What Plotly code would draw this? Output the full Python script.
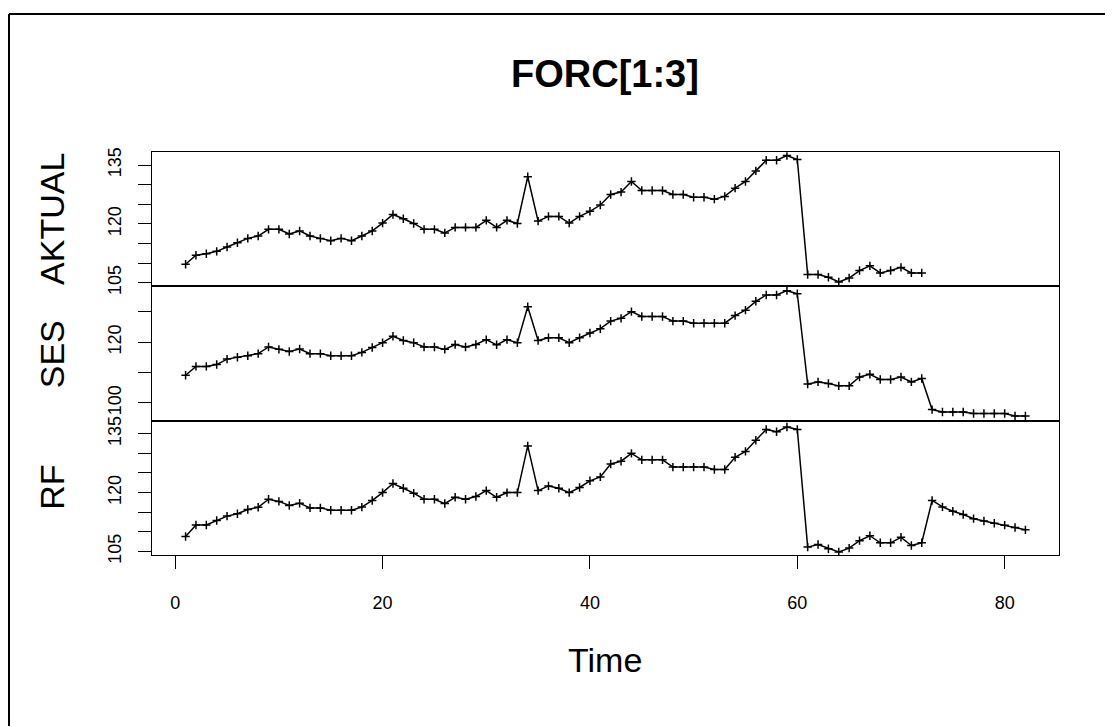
import plotly.graph_objects as go

# time index and the three series
time = list(range(1, 83))

aktual = [109.7, 112.0, 112.4, 113.0, 114.1, 115.2, 116.3, 116.9, 118.6, 118.6,
          117.4, 118.2, 116.9, 116.3, 115.7, 116.3, 115.7, 116.9, 118.2, 120.2,
          122.4, 121.3, 120.1, 118.6, 118.6, 117.7, 119.1, 119.1, 119.1, 120.9,
          119.1, 120.9, 120.1, 132.0, 120.7, 121.9, 121.9, 120.2, 121.9, 123.2,
          124.8, 127.5, 128.1, 130.8, 128.5, 128.5, 128.5, 127.5, 127.5, 126.8,
          126.8, 126.3, 127.0, 129.1, 130.8, 133.5, 136.2, 136.2, 137.4, 136.4,
          107.1, 107.1, 106.4, 105.2, 106.2, 108.1, 109.3, 107.5, 108.1, 108.9,
          107.5, 107.5]

ses = [109.1, 112.0, 112.0, 112.6, 114.4, 115.0, 115.5, 116.2, 118.4, 117.6,
       116.9, 117.7, 116.2, 116.2, 115.5, 115.5, 115.5, 116.6, 118.2, 119.8,
       121.9, 120.5, 119.8, 118.4, 118.4, 117.6, 119.2, 118.4, 119.2, 120.8,
       119.1, 120.8, 119.8, 131.6, 120.5, 121.4, 121.4, 119.8, 121.4, 123.0,
       124.4, 126.9, 127.8, 130.0, 128.4, 128.4, 128.4, 126.9, 126.9, 126.2,
       126.2, 126.2, 126.2, 128.7, 130.5, 133.4, 135.5, 135.5, 136.9, 135.9,
       106.2, 106.9, 106.4, 105.6, 105.6, 108.5, 109.4, 107.7, 107.7, 108.5,
       106.9, 108.0, 97.8, 97.0, 97.0, 97.0, 96.5, 96.5, 96.5, 96.5,
       95.7, 95.7]

rf = [108.8, 111.75, 111.75, 112.9, 114.0, 114.6, 115.7, 116.25, 118.3, 117.75,
      116.7, 117.3, 116.1, 116.1, 115.5, 115.5, 115.5, 116.3, 118.0, 120.0,
      122.3, 121.1, 119.85, 118.3, 118.3, 117.2, 118.8, 118.3, 119.0, 120.5,
      118.8, 120.0, 120.0, 131.9, 120.5, 121.7, 121.1, 120.0, 121.3, 123.0,
      124.0, 127.3, 128.0, 130.0, 128.35, 128.35, 128.35, 126.5, 126.5, 126.5,
      126.5, 125.9, 125.9, 129.0, 130.5, 133.35, 136.1, 135.5, 136.7, 136.1,
      106.1, 106.75, 105.7, 104.85, 105.85, 107.75, 109.0, 107.2, 107.2, 108.6,
      106.5, 107.2, 118.0, 116.35, 115.25, 114.4, 113.35, 112.75, 112.2, 111.7,
      111.1, 110.5]

aktual_ticks = [105, 110, 115, 120, 125, 130, 135]
aktual_labels = ["105", "", "", "120", "", "", "135"]
ses_ticks = [100, 110, 120, 130]
ses_labels = ["100", "", "120", ""]
rf_ticks = [105, 110, 115, 120, 125, 130, 135]
rf_labels = ["105", "", "", "120", "", "", "135"]
time_ticks = [0, 20, 40, 60, 80]

W, H = 1113, 727
OFF = 8  # page body margin
FONT = "Liberation Sans, Arial, sans-serif"


def px(x):
    return (x - OFF) / W


def py(y):
    return 1 - (y - OFF) / H


fig = go.Figure()
for i, ser in enumerate([aktual, ses, rf]):
    fig.add_trace(go.Scatter(
        x=time[:len(ser)], y=ser, mode="lines+markers",
        line=dict(color="black", width=1.5),
        marker=dict(symbol="cross-thin", size=6, line=dict(color="black", width=1.5)),
        xaxis="x" if i == 0 else f"x{i+1}", yaxis="y" if i == 0 else f"y{i+1}",
        showlegend=False))

xdom = [px(152), px(1059)]
xr = [-2.24, 85.24]
common_y = dict(showline=True, mirror=True, linecolor="black", linewidth=1,
                ticks="outside", ticklen=13, tickcolor="black", tickwidth=1,
                tickangle=-90, showgrid=False, zeroline=False,
                tickfont=dict(family=FONT, size=18, color="black"),
                ticklabelstandoff=10)
common_x = dict(domain=xdom, range=xr, showline=True, mirror=True,
                linecolor="black", linewidth=1, showgrid=False, zeroline=False)

fig.update_layout(
    width=W, height=H, margin=dict(l=0, r=0, t=0, b=0),
    plot_bgcolor="white", paper_bgcolor="white",
    xaxis=dict(**common_x, anchor="y", showticklabels=False, ticks=""),
    xaxis2=dict(**common_x, anchor="y2", showticklabels=False, ticks="", matches="x"),
    xaxis3=dict(**common_x, anchor="y3", ticks="outside", ticklen=13, tickcolor="black",
                tickvals=time_ticks, ticklabelstandoff=18,
                tickfont=dict(family=FONT, size=18, color="black")),
    yaxis=dict(**common_y, domain=[py(286), py(150)], range=[104.25, 138.25],
               tickvals=aktual_ticks, ticktext=aktual_labels, anchor="x"),
    yaxis2=dict(**common_y, domain=[py(424), py(286)], range=[94.05, 138.55],
                tickvals=ses_ticks, ticktext=ses_labels, anchor="x2"),
    yaxis3=dict(**common_y, domain=[py(561), py(424)], range=[104.0, 138.25],
                tickvals=rf_ticks, ticktext=rf_labels, anchor="x3"),
)

# titles as annotations, placed like the base-R layout
ann = [
    ("<b>FORC[1:3]</b>", 605, 70, 38, 0),
    ("Time", 605, 668, 34, 0),
    ("AKTUAL", 52, 218, 34, -90),
    ("SES", 52, 356, 34, -90),
    ("RF", 52, 492, 34, -90),
]
for text, x, y, size, ang in ann:
    fig.add_annotation(text=text, x=px(x), y=py(y), xref="paper", yref="paper",
                       showarrow=False, textangle=ang, xanchor="center", yanchor="middle",
                       font=dict(family=FONT, size=size, color="black"))

# outer frame (left and top edges visible in the reference)
fig.add_shape(type="line", xref="paper", yref="paper", x0=px(9), y0=py(9), x1=1, y1=py(9),
              line=dict(color="black", width=2))
fig.add_shape(type="line", xref="paper", yref="paper", x0=px(9), y0=py(9), x1=px(9), y1=0,
              line=dict(color="black", width=2))

fig.write_html("out.html")
